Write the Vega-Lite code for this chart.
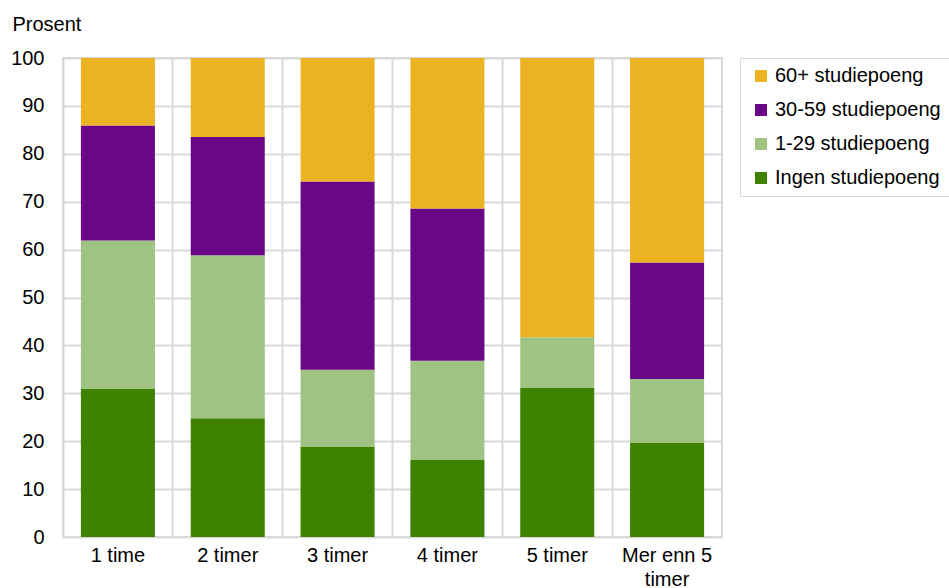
{
  "$schema": "https://vega.github.io/schema/vega-lite/v6.json",
  "width": 659,
  "height": 479,
  "autosize": "none",
  "padding": {"left": 63, "top": 58, "right": 227, "bottom": 51},
  "background": "white",
  "config": {
    "font": "Liberation Sans",
    "view": {"stroke": "#d9d9d9", "strokeWidth": 2}
  },
  "data": {
    "values": [
      {"tid": "1 time", "kategori": "Ingen studiepoeng", "rank": 1, "prosent": 30.9},
      {"tid": "1 time", "kategori": "1-29 studiepoeng", "rank": 2, "prosent": 31.0},
      {"tid": "1 time", "kategori": "30-59 studiepoeng", "rank": 3, "prosent": 24.0},
      {"tid": "1 time", "kategori": "60+ studiepoeng", "rank": 4, "prosent": 14.1},
      {"tid": "2 timer", "kategori": "Ingen studiepoeng", "rank": 1, "prosent": 24.8},
      {"tid": "2 timer", "kategori": "1-29 studiepoeng", "rank": 2, "prosent": 34.0},
      {"tid": "2 timer", "kategori": "30-59 studiepoeng", "rank": 3, "prosent": 24.7},
      {"tid": "2 timer", "kategori": "60+ studiepoeng", "rank": 4, "prosent": 16.5},
      {"tid": "3 timer", "kategori": "Ingen studiepoeng", "rank": 1, "prosent": 18.9},
      {"tid": "3 timer", "kategori": "1-29 studiepoeng", "rank": 2, "prosent": 16.0},
      {"tid": "3 timer", "kategori": "30-59 studiepoeng", "rank": 3, "prosent": 39.3},
      {"tid": "3 timer", "kategori": "60+ studiepoeng", "rank": 4, "prosent": 25.8},
      {"tid": "4 timer", "kategori": "Ingen studiepoeng", "rank": 1, "prosent": 16.2},
      {"tid": "4 timer", "kategori": "1-29 studiepoeng", "rank": 2, "prosent": 20.6},
      {"tid": "4 timer", "kategori": "30-59 studiepoeng", "rank": 3, "prosent": 31.8},
      {"tid": "4 timer", "kategori": "60+ studiepoeng", "rank": 4, "prosent": 31.4},
      {"tid": "5 timer", "kategori": "Ingen studiepoeng", "rank": 1, "prosent": 31.1},
      {"tid": "5 timer", "kategori": "1-29 studiepoeng", "rank": 2, "prosent": 10.6},
      {"tid": "5 timer", "kategori": "30-59 studiepoeng", "rank": 3, "prosent": 0},
      {"tid": "5 timer", "kategori": "60+ studiepoeng", "rank": 4, "prosent": 58.3},
      {"tid": "Mer enn 5 timer", "kategori": "Ingen studiepoeng", "rank": 1, "prosent": 19.6},
      {"tid": "Mer enn 5 timer", "kategori": "1-29 studiepoeng", "rank": 2, "prosent": 13.4},
      {"tid": "Mer enn 5 timer", "kategori": "30-59 studiepoeng", "rank": 3, "prosent": 24.3},
      {"tid": "Mer enn 5 timer", "kategori": "60+ studiepoeng", "rank": 4, "prosent": 42.7}
    ]
  },
  "mark": {"type": "bar", "width": {"band": 0.674}},
  "encoding": {
    "x": {
      "field": "tid",
      "type": "nominal",
      "sort": null,
      "scale": {"paddingInner": 0, "paddingOuter": 0},
      "axis": {
        "title": null,
        "labelAngle": 0,
        "labelFontSize": 20,
        "labelColor": "#000000",
        "labelPadding": 8,
        "labelLineHeight": 24,
        "ticks": false,
        "domain": false,
        "grid": true,
        "bandPosition": 0,
        "gridColor": "#d9d9d9",
        "gridWidth": 2,
        "labelExpr": "datum.label == 'Mer enn 5 timer' ? ['Mer enn 5', 'timer'] : datum.label"
      }
    },
    "y": {
      "field": "prosent",
      "type": "quantitative",
      "stack": "zero",
      "scale": {"domain": [0, 100]},
      "axis": {
        "title": "Prosent",
        "titleAngle": 0,
        "titleAlign": "left",
        "titleBaseline": "alphabetic",
        "titleX": -51,
        "titleY": -28,
        "titleFontSize": 20,
        "titleFontWeight": "normal",
        "titleColor": "#000000",
        "values": [0, 10, 20, 30, 40, 50, 60, 70, 80, 90, 100],
        "labelFontSize": 20,
        "labelColor": "#000000",
        "labelPadding": 19,
        "ticks": false,
        "domain": false,
        "grid": true,
        "gridColor": "#d9d9d9",
        "gridWidth": 2
      }
    },
    "color": {
      "field": "kategori",
      "type": "nominal",
      "scale": {
        "domain": ["60+ studiepoeng", "30-59 studiepoeng", "1-29 studiepoeng", "Ingen studiepoeng"],
        "range": ["#ebb321", "#6a0787", "#9fc383", "#3e8200"]
      },
      "legend": {
        "title": null,
        "orient": "none",
        "legendX": 677,
        "legendY": 0,
        "symbolType": "square",
        "symbolSize": 144,
        "symbolStrokeWidth": 0,
        "symbolOffset": 3,
        "labelFontSize": 20,
        "labelColor": "#000000",
        "labelOffset": 4,
        "rowPadding": 14,
        "padding": 8,
        "strokeColor": "#d9d9d9",
        "fillColor": "white",
        "labelLimit": 400
      }
    },
    "order": {"field": "rank", "type": "quantitative"}
  }
}
